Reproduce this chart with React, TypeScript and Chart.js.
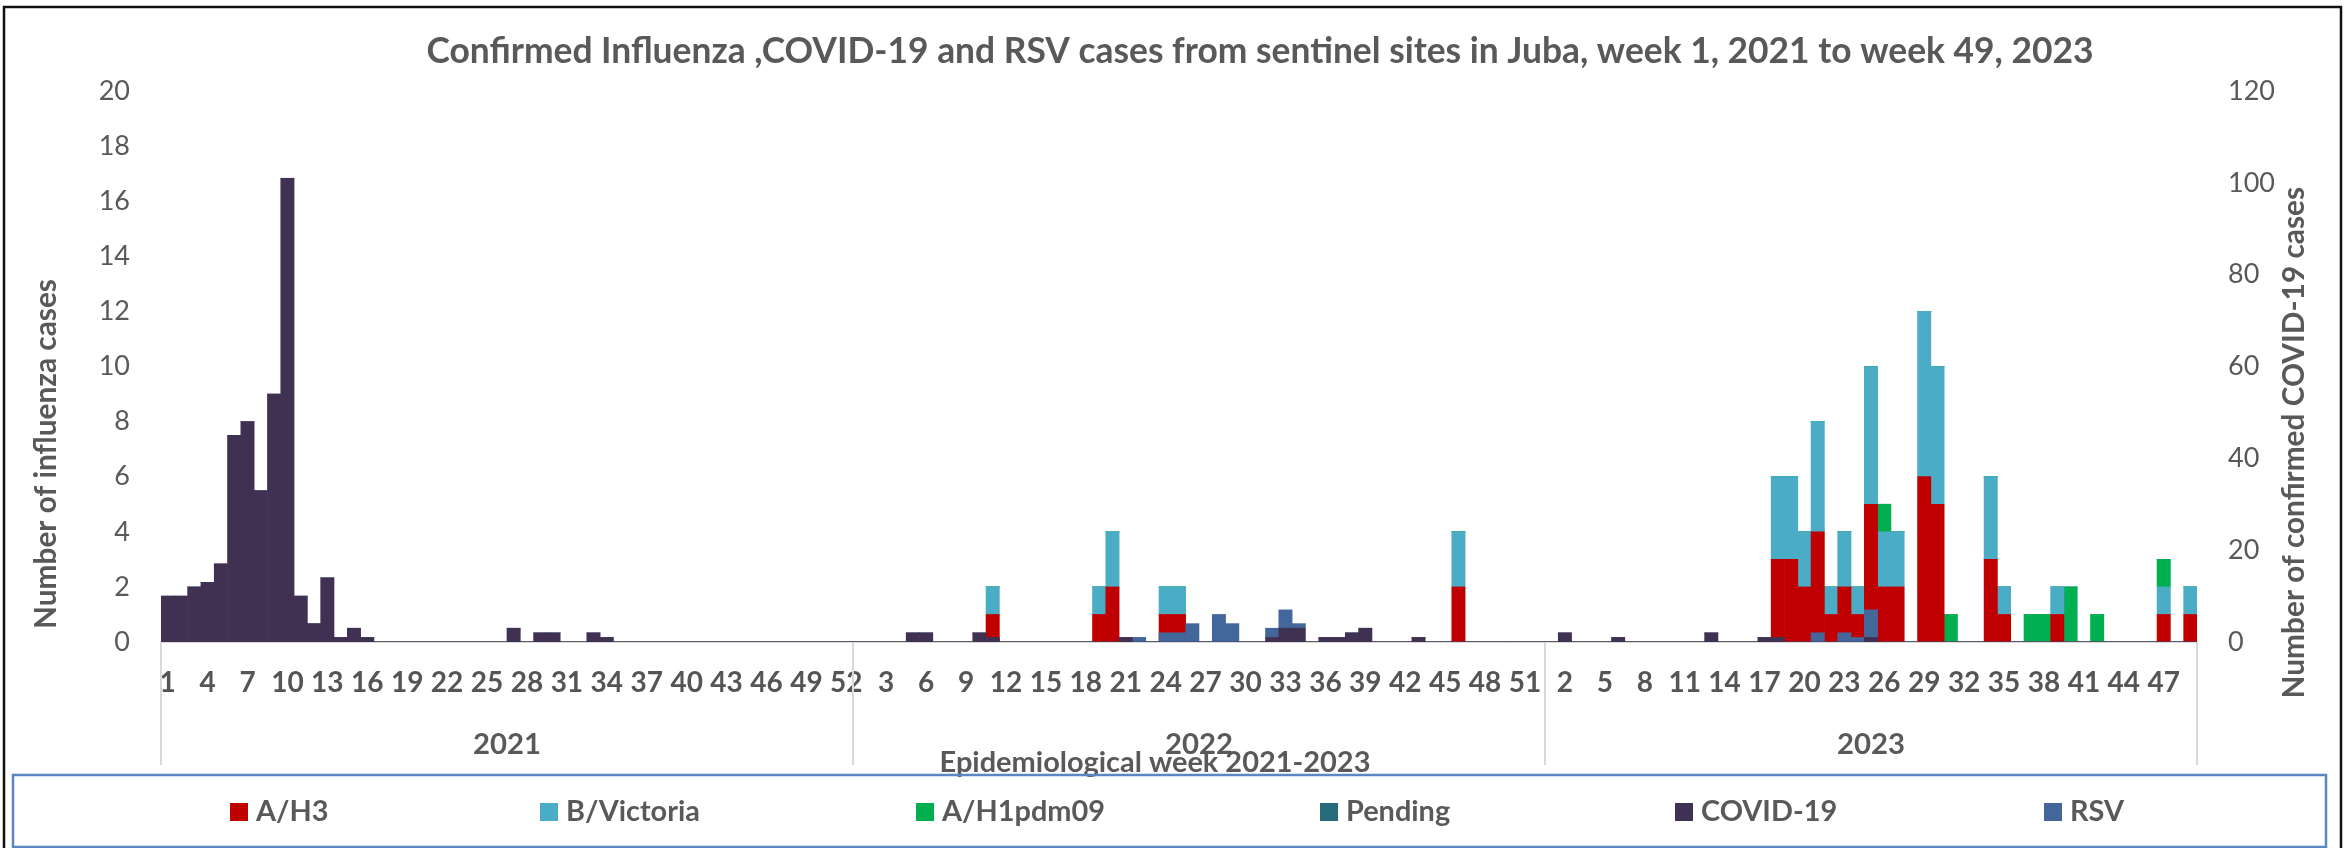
import React, { useEffect, useRef } from 'react';
import { Chart, registerables } from 'chart.js';

Chart.register(...registerables);

// ---------- categories ----------
const YEARS = ['2021', '2022', '2023'];
const WEEKS_2021 = Array.from({ length: 52 }, (_, i) => i + 1);
const WEEKS_2022 = Array.from({ length: 52 }, (_, i) => i + 1);
const WEEKS_2023 = Array.from({ length: 49 }, (_, i) => i + 1);

// ---------- series ----------
// Influenza (left axis)
const AH3_2021 = [
  0, 0, 0, 0, 0, 0, 0, 0, 0, 0, 0, 0, 0, 0, 0, 0, 0, 0, 0, 0, 0, 0, 0, 0, 0, 0,
  0, 0, 0, 0, 0, 0, 0, 0, 0, 0, 0, 0, 0, 0, 0, 0, 0, 0, 0, 0, 0, 0, 0, 0, 0, 0,
];
const AH3_2022 = [
  0, 0, 0, 0, 0, 0, 0, 0, 0, 0, 1, 0, 0, 0, 0, 0, 0, 0, 1, 2, 0, 0, 0, 1, 1, 0,
  0, 0, 0, 0, 0, 0, 0, 0, 0, 0, 0, 0, 0, 0, 0, 0, 0, 0, 0, 2, 0, 0, 0, 0, 0, 0,
];
const AH3_2023 = [
  0, 0, 0, 0, 0, 0, 0, 0, 0, 0, 0, 0, 0, 0, 0, 0, 0, 3, 3, 2, 4, 1, 2, 1, 5,
  2, 2, 0, 6, 5, 0, 0, 0, 3, 1, 0, 0, 0, 1, 0, 0, 0, 0, 0, 0, 0, 1, 0, 1,
];
const BVIC_2021 = [
  0, 0, 0, 0, 0, 0, 0, 0, 0, 0, 0, 0, 0, 0, 0, 0, 0, 0, 0, 0, 0, 0, 0, 0, 0, 0,
  0, 0, 0, 0, 0, 0, 0, 0, 0, 0, 0, 0, 0, 0, 0, 0, 0, 0, 0, 0, 0, 0, 0, 0, 0, 0,
];
const BVIC_2022 = [
  0, 0, 0, 0, 0, 0, 0, 0, 0, 0, 1, 0, 0, 0, 0, 0, 0, 0, 1, 2, 0, 0, 0, 1, 1, 0,
  0, 0, 0, 0, 0, 0, 0, 0, 0, 0, 0, 0, 0, 0, 0, 0, 0, 0, 0, 2, 0, 0, 0, 0, 0, 0,
];
const BVIC_2023 = [
  0, 0, 0, 0, 0, 0, 0, 0, 0, 0, 0, 0, 0, 0, 0, 0, 0, 3, 3, 2, 4, 1, 2, 1, 5,
  2, 2, 0, 6, 5, 0, 0, 0, 3, 1, 0, 0, 0, 1, 0, 0, 0, 0, 0, 0, 0, 1, 0, 1,
];
const AH1_2021 = [
  0, 0, 0, 0, 0, 0, 0, 0, 0, 0, 0, 0, 0, 0, 0, 0, 0, 0, 0, 0, 0, 0, 0, 0, 0, 0,
  0, 0, 0, 0, 0, 0, 0, 0, 0, 0, 0, 0, 0, 0, 0, 0, 0, 0, 0, 0, 0, 0, 0, 0, 0, 0,
];
const AH1_2022 = [
  0, 0, 0, 0, 0, 0, 0, 0, 0, 0, 0, 0, 0, 0, 0, 0, 0, 0, 0, 0, 0, 0, 0, 0, 0, 0,
  0, 0, 0, 0, 0, 0, 0, 0, 0, 0, 0, 0, 0, 0, 0, 0, 0, 0, 0, 0, 0, 0, 0, 0, 0, 0,
];
const AH1_2023 = [
  0, 0, 0, 0, 0, 0, 0, 0, 0, 0, 0, 0, 0, 0, 0, 0, 0, 0, 0, 0, 0, 0, 0, 0, 0,
  1, 0, 0, 0, 0, 1, 0, 0, 0, 0, 0, 1, 1, 0, 2, 0, 1, 0, 0, 0, 0, 1, 0, 0,
];
const PENDING_2021 = [
  0, 0, 0, 0, 0, 0, 0, 0, 0, 0, 0, 0, 0, 0, 0, 0, 0, 0, 0, 0, 0, 0, 0, 0, 0, 0,
  0, 0, 0, 0, 0, 0, 0, 0, 0, 0, 0, 0, 0, 0, 0, 0, 0, 0, 0, 0, 0, 0, 0, 0, 0, 0,
];
const PENDING_2022 = [
  0, 0, 0, 0, 0, 0, 0, 0, 0, 0, 0, 0, 0, 0, 0, 0, 0, 0, 0, 0, 0, 0, 0, 0, 0, 0,
  0, 0, 0, 0, 0, 0, 0, 0, 0, 0, 0, 0, 0, 0, 0, 0, 0, 0, 0, 0, 0, 0, 0, 0, 0, 0,
];
const PENDING_2023 = [
  0, 0, 0, 0, 0, 0, 0, 0, 0, 0, 0, 0, 0, 0, 0, 0, 0, 0, 0, 0, 0, 0, 0, 0, 0,
  0, 0, 0, 0, 0, 0, 0, 0, 0, 0, 0, 0, 0, 0, 0, 0, 0, 0, 0, 0, 0, 0, 0, 0,
];
// COVID-19 and RSV (right axis)
const COVID_2021 = [
  10, 10, 12, 13, 17, 45, 48, 33, 54, 101, 10, 4, 14, 1, 3, 1, 0, 0, 0, 0, 0, 0, 0, 0, 0, 0,
  3, 0, 2, 2, 0, 0, 2, 1, 0, 0, 0, 0, 0, 0, 0, 0, 0, 0, 0, 0, 0, 0, 0, 0, 0, 0,
];
const COVID_2022 = [
  0, 0, 0, 0, 2, 2, 0, 0, 0, 2, 1, 0, 0, 0, 0, 0, 0, 0, 0, 0, 1, 0, 0, 0, 0, 0,
  0, 0, 0, 0, 0, 1, 3, 3, 0, 1, 1, 2, 3, 0, 0, 0, 1, 0, 0, 0, 0, 0, 0, 0, 0, 0,
];
const COVID_2023 = [
  0, 2, 0, 0, 0, 1, 0, 0, 0, 0, 0, 0, 2, 0, 0, 0, 1, 1, 0, 0, 0, 0, 0, 0, 1,
  0, 0, 0, 0, 0, 0, 0, 0, 0, 0, 0, 0, 0, 0, 0, 0, 0, 0, 0, 0, 0, 0, 0, 0,
];
const RSV_2021 = [
  0, 0, 0, 0, 0, 0, 0, 0, 0, 0, 0, 0, 0, 0, 0, 0, 0, 0, 0, 0, 0, 0, 0, 0, 0, 0,
  0, 0, 0, 0, 0, 0, 0, 0, 0, 0, 0, 0, 0, 0, 0, 0, 0, 0, 0, 0, 0, 0, 0, 0, 0, 0,
];
const RSV_2022 = [
  0, 0, 0, 0, 0, 0, 0, 0, 0, 0, 0, 0, 0, 0, 0, 0, 0, 0, 0, 0, 0, 1, 0, 2, 2, 4,
  0, 6, 4, 0, 0, 2, 4, 1, 0, 0, 0, 0, 0, 0, 0, 0, 0, 0, 0, 0, 0, 0, 0, 0, 0, 0,
];
const RSV_2023 = [
  0, 0, 0, 0, 0, 0, 0, 0, 0, 0, 0, 0, 0, 0, 0, 0, 0, 0, 0, 0, 2, 0, 2, 1, 6,
  0, 0, 0, 0, 0, 0, 0, 0, 0, 0, 0, 0, 0, 0, 0, 0, 0, 0, 0, 0, 0, 0, 0, 0,
];

// ---------- texts ----------
const TITLE =
  'Confirmed Influenza ,COVID-19 and RSV cases from sentinel sites in Juba, week 1, 2021 to week 49, 2023';
const Y_LEFT_TITLE = 'Number of influenza cases';
const Y_RIGHT_TITLE = 'Number of confirmed COVID-19 cases';
const X_TITLE = 'Epidemiological week 2021-2023';
const LEGEND_ORDER = ['A/H3', 'B/Victoria', 'A/H1pdm09', 'Pending', 'COVID-19', 'RSV'];

// ---------- styles ----------
const FONT = 'Lato, "Open Sans", "DejaVu Sans", sans-serif';
const TEXT = '#595959';
const C_AH3 = '#C00000';
const C_BVIC = '#4BACC6';
const C_AH1 = '#00B050';
const C_PEND = '#276C7A';
const C_COVID = '#403152';
const C_RSV = '#43679A';
const AXIS_LINE = '#D9D9D9';
const LEGEND_X = [230, 540, 916, 1320, 1675, 2044];
const X_TICK_SIZE = 28;
const Y_TICK_SIZE = 27;

function fitSize(text: string, weight: string, target: number) {
  const c = document.createElement('canvas').getContext('2d')!;
  c.font = `${weight} 100px ${FONT}`;
  return (100 * target) / c.measureText(text).width;
}

export default function App() {
  const ref = useRef<HTMLCanvasElement>(null);

  useEffect(() => {
    document.body.style.margin = '0';
    const canvas = ref.current!;

    const sTitle = fitSize(TITLE, 'bold', 1668);
    const sAxisTitle = fitSize(Y_LEFT_TITLE, 'bold', 350);
    const sXTitle = fitSize(X_TITLE, 'bold', 431);
    const sLegend = fitSize('B/Victoria', 'bold', 134);
    const sYear = fitSize('2021', 'bold', 68);

    const counts = [WEEKS_2021.length, WEEKS_2022.length, WEEKS_2023.length];
    const labels = [...WEEKS_2021, ...WEEKS_2022, ...WEEKS_2023].map(String);

    const common = {
      type: 'bar' as const,
      categoryPercentage: 1,
      barPercentage: 1,
      borderWidth: 0,
    };

    const datasets: any[] = [
      { ...common, label: 'COVID-19', data: [...COVID_2021, ...COVID_2022, ...COVID_2023], backgroundColor: C_COVID, yAxisID: 'y2' },
      { ...common, label: 'RSV', data: [...RSV_2021, ...RSV_2022, ...RSV_2023], backgroundColor: C_RSV, yAxisID: 'y2' },
      { ...common, label: 'A/H3', data: [...AH3_2021, ...AH3_2022, ...AH3_2023], backgroundColor: C_AH3, yAxisID: 'y' },
      { ...common, label: 'B/Victoria', data: [...BVIC_2021, ...BVIC_2022, ...BVIC_2023], backgroundColor: C_BVIC, yAxisID: 'y' },
      { ...common, label: 'A/H1pdm09', data: [...AH1_2021, ...AH1_2022, ...AH1_2023], backgroundColor: C_AH1, yAxisID: 'y' },
      { ...common, label: 'Pending', data: [...PENDING_2021, ...PENDING_2022, ...PENDING_2023], backgroundColor: C_PEND, yAxisID: 'y' },
    ];

    const decor = {
      id: 'decor',
      afterDraw(chart: any) {
        const ctx = chart.ctx as CanvasRenderingContext2D;
        const x = chart.scales.x;
        const area = chart.chartArea;
        const pitch = (area.right - area.left) / labels.length;
        ctx.save();

        // outer frame
        ctx.strokeStyle = '#111111';
        ctx.lineWidth = 2.5;
        ctx.strokeRect(4, 7, 2337, 850);

        // title
        ctx.fillStyle = TEXT;
        ctx.textAlign = 'center';
        ctx.textBaseline = 'middle';
        ctx.font = `bold ${sTitle}px ${FONT}`;
        ctx.fillText(TITLE, 1260, 52);

        // year separators and labels
        ctx.strokeStyle = AXIS_LINE;
        ctx.lineWidth = 2;
        let start = 0;
        const bounds = [0];
        counts.forEach((n) => {
          start += n;
          bounds.push(start);
        });
        bounds.forEach((b) => {
          const px = Math.round(x.getPixelForValue(Math.min(b, labels.length - 1)) + (b >= labels.length ? pitch / 2 : -pitch / 2));
          ctx.beginPath();
          ctx.moveTo(px, area.bottom);
          ctx.lineTo(px, 765);
          ctx.stroke();
        });
        ctx.font = `bold ${sYear}px ${FONT}`;
        YEARS.forEach((yr, i) => {
          const a = x.getPixelForValue(bounds[i]);
          const b = x.getPixelForValue(bounds[i + 1] - 1);
          ctx.fillText(yr, (a + b) / 2, 745);
        });

        // x axis title
        ctx.font = `bold ${sXTitle}px ${FONT}`;
        ctx.fillText(X_TITLE, 1155, 763);

        // y axis titles
        ctx.font = `bold ${sAxisTitle}px ${FONT}`;
        ctx.save();
        ctx.translate(46, 279 + 175);
        ctx.rotate(-Math.PI / 2);
        ctx.fillText(Y_LEFT_TITLE, 0, 0);
        ctx.restore();
        const wR = ctx.measureText(Y_RIGHT_TITLE).width;
        ctx.save();
        ctx.translate(2294, 187 + wR / 2);
        ctx.rotate(-Math.PI / 2);
        ctx.fillText(Y_RIGHT_TITLE, 0, 0);
        ctx.restore();

        // legend box
        ctx.strokeStyle = '#5B86C2';
        ctx.lineWidth = 2.5;
        ctx.strokeRect(13, 775, 2313, 72);
        ctx.font = `bold ${sLegend}px ${FONT}`;
        ctx.textAlign = 'left';
        LEGEND_ORDER.forEach((name, i) => {
          const ds = chart.data.datasets.find((d: any) => d.label === name);
          ctx.fillStyle = ds.backgroundColor;
          ctx.fillRect(LEGEND_X[i], 803, 18, 18);
          ctx.fillStyle = TEXT;
          ctx.fillText(name, LEGEND_X[i] + 26, 812);
        });

        ctx.restore();
      },
    };

    const chart = new Chart(canvas, {
      type: 'bar',
      data: { labels, datasets },
      options: {
        animation: false,
        responsive: false,
        maintainAspectRatio: false,
        layout: { padding: { top: 91, left: 0, right: 0, bottom: 0 } },
        plugins: {
          legend: { display: false },
          title: { display: false },
          tooltip: { enabled: false },
        },
        scales: {
          x: {
            type: 'category',
            stacked: true,
            offset: true,
            grid: { display: false, drawTicks: false },
            border: { display: true, color: AXIS_LINE, width: 2 },
            ticks: {
              autoSkip: false,
              maxRotation: 0,
              minRotation: 0,
              padding: 24,
              color: '#555555',
              font: { family: FONT, size: X_TICK_SIZE, weight: 'bold' },
              callback: (_v: any, i: number) => (i % 3 === 0 ? labels[i] : ''),
            },
            afterFit: (s: any) => {
              s.height = 206;
            },
          },
          y: {
            position: 'left',
            stacked: true,
            min: 0,
            max: 20,
            grid: { display: false, drawTicks: false },
            border: { display: false },
            ticks: { stepSize: 2, padding: 31, color: TEXT, font: { family: FONT, size: Y_TICK_SIZE } },
            afterFit: (s: any) => {
              s.width = 161;
            },
          },
          y2: {
            position: 'right',
            stacked: true,
            min: 0,
            max: 120,
            grid: { display: false, drawTicks: false },
            border: { display: false },
            ticks: { stepSize: 20, padding: 31, color: TEXT, font: { family: FONT, size: Y_TICK_SIZE } },
            afterFit: (s: any) => {
              s.width = 149;
            },
          },
        },
      } as any,
      plugins: [decor],
    });

    return () => chart.destroy();
  }, []);

  return (
    <div style={{ width: 2346, height: 848, background: '#ffffff' }}>
      <canvas ref={ref} width={2346} height={848} style={{ display: 'block', width: 2346, height: 848 }} />
    </div>
  );
}
